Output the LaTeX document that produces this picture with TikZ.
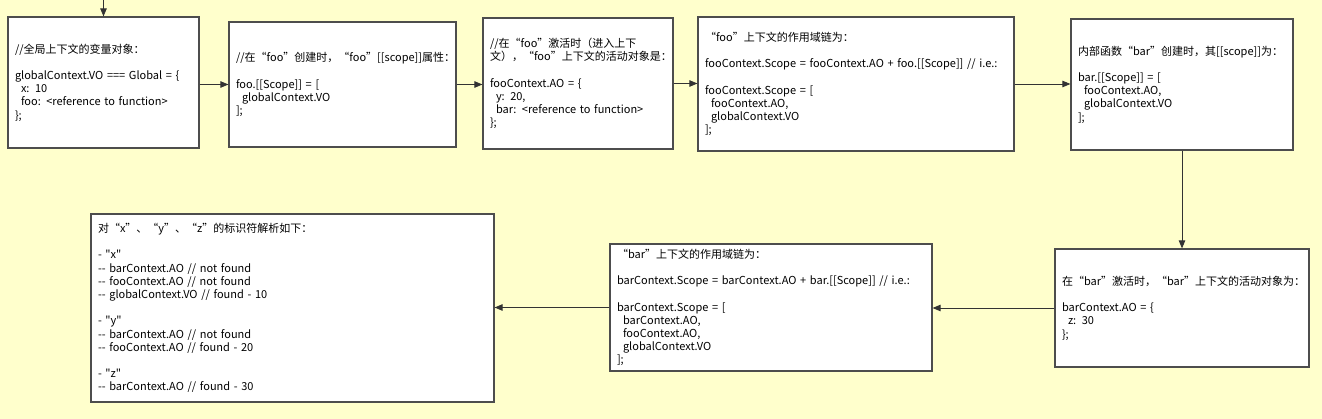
\documentclass[tikz,border=0pt]{standalone}
\usepackage{fontspec}
\usetikzlibrary{arrows.meta}
\newfontfamily\cjk{Noto Sans CJK SC}
\newfontfamily\cjkq{Noto Sans CJK SC}[RawFeature=+fwid]
\newcommand\lqq{{\cjkq “}}
\newcommand\rqq{{\cjkq ”}}
\newcommand\ind{\hspace*{6pt}}
\newcommand\gap{\\[13.2pt]}
\definecolor{bgyellow}{HTML}{FFFFCC}
\definecolor{edge}{HTML}{4D4D4D}
\definecolor{arrowc}{HTML}{333333}
\begin{document}
\begin{tikzpicture}[x=1pt,y=-1pt,
  box/.style={draw=edge, line width=1.2pt, fill=white, inner xsep=7pt, inner ysep=0pt,
    align=left, font=\cjk\fontsize{11}{13.2}\selectfont},
  arr/.style={draw=arrowc, line width=0.9pt, -{Triangle[length=8pt,width=6.5pt]}}]
\fill[bgyellow] (0,0) rectangle (1322,419);
\useasboundingbox (0,0) rectangle (1322,419);

\node[box, minimum width=191pt, minimum height=131pt, text width=177pt] (b1) at (103.5,82.5)
{//全局上下文的变量对象：\gap
globalContext.VO === Global = \{\\
\ind x: 10\\
\ind foo: <reference to function>\\
\};};

\node[box, minimum width=227pt, minimum height=125pt, text width=213pt] (b2) at (342.5,84.5)
{//在\lqq foo\rqq 创建时，\lqq foo\rqq [[scope]]属性：\gap
foo.[[Scope]] = [\\
\ind globalContext.VO\\
];};

\node[box, minimum width=190pt, minimum height=131pt, text width=176pt] (b3) at (578,83.5)
{//在\lqq foo\rqq 激活时（进入上下\\
文），\lqq foo\rqq 上下文的活动对象是：\gap
fooContext.AO = \{\\
\ind y: 20,\\
\ind bar: <reference to function>\\
\};};

\node[box, minimum width=316pt, minimum height=134pt, text width=302pt] (b4) at (856,84)
{\lqq foo\rqq 上下文的作用域链为：\gap
fooContext.Scope = fooContext.AO + foo.[[Scope]] // i.e.:\gap
fooContext.Scope = [\\
\ind fooContext.AO,\\
\ind globalContext.VO\\
];};

\node[box, minimum width=222pt, minimum height=131pt, text width=208pt] (b5) at (1182,84.5)
{内部函数\lqq bar\rqq 创建时，其[[scope]]为：\gap
bar.[[Scope]] = [\\
\ind fooContext.AO,\\
\ind globalContext.VO\\
];};

\node[box, minimum width=254pt, minimum height=118pt, text width=240pt] (b6) at (1182,308)
{在\lqq bar\rqq 激活时，\lqq bar\rqq 上下文的活动对象为：\gap
barContext.AO = \{\\
\ind z: 30\\
\};};

\node[box, minimum width=322pt, minimum height=127pt, text width=308pt] (b7) at (771,307.5)
{\lqq bar\rqq 上下文的作用域链为：\gap
barContext.Scope = barContext.AO + bar.[[Scope]] // i.e.:\gap
barContext.Scope = [\\
\ind barContext.AO,\\
\ind fooContext.AO,\\
\ind globalContext.VO\\
];};

\node[box, minimum width=403pt, minimum height=188pt, text width=389pt] (b8) at (292.5,308)
{对\lqq x\rqq 、\lqq y\rqq 、\lqq z\rqq 的标识符解析如下：\gap
- "x"\\
-- barContext.AO // not found\\
-- fooContext.AO // not found\\
-- globalContext.VO // found - 10\gap
- "y"\\
-- barContext.AO // not found\\
-- fooContext.AO // found - 20\gap
- "z"\\
-- barContext.AO // found - 30};

\coordinate (top) at (103.5,0);
\draw[arr] (top) -- (b1.north);
\draw[arr] (b2.west -| b1.east) -- (b2.west);
\draw[arr] (b2.east) -- (b2.east -| b3.west);
\draw[arr] (b3.east) -- (b3.east -| b4.west);
\draw[arr] (b4.east) -- (b4.east -| b5.west);
\draw[arr] (b5.south) -- (b6.north);
\draw[arr] (b6.west) -- (b6.west -| b7.east);
\draw[arr] (b7.west) -- (b7.west -| b8.east);
\end{tikzpicture}
\end{document}
